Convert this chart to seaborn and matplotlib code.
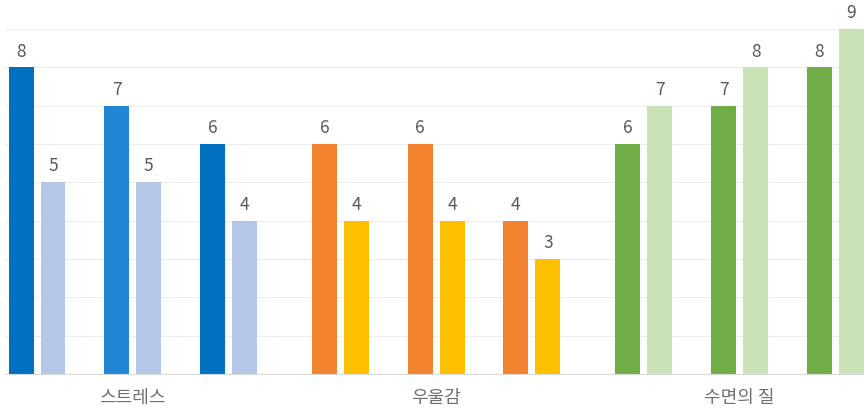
import numpy as np
import pandas as pd
import matplotlib
matplotlib.use("Agg")
import matplotlib.pyplot as plt
import seaborn as sns

# ---- data ----
groups = ["스트레스", "우울감", "수면의 질"]
pairs_per_group = 3
first_values = [8, 7, 6, 6, 6, 4, 6, 7, 8]
second_values = [5, 5, 4, 4, 4, 3, 7, 8, 9]
first_colors = ["#0070C0", "#2386D4", "#0070C0",
                "#F2832F", "#F2832F", "#F2832F",
                "#70AD47", "#70AD47", "#70AD47"]
second_colors = ["#B4C7E7", "#B4C7E7", "#B4C7E7",
                 "#FFC000", "#FFC000", "#FFC000",
                 "#C9E3B6", "#C9E3B6", "#C9E3B6"]

sns.set_theme(style="white")
plt.rcParams["font.family"] = ["Noto Sans CJK KR", "DejaVu Sans"]

group_gap = 0.17
half = 1.0 / 6.0
rows = []
palette = {}
for i, (v1, v2) in enumerate(zip(first_values, second_values)):
    g = i // pairs_per_group
    center = i + g * group_gap
    k1, k2 = f"a{i}", f"b{i}"
    rows.append({"pos": center - half, "value": v1, "key": k1})
    rows.append({"pos": center + half, "value": v2, "key": k2})
    palette[k1] = first_colors[i]
    palette[k2] = second_colors[i]
df = pd.DataFrame(rows)

fig = plt.figure(figsize=(8.64, 4.13), dpi=100)
ax = fig.add_axes([0.006, 0.0944, 0.994, 0.9056])

sns.barplot(data=df, x="pos", y="value", hue="key", palette=palette,
            native_scale=True, dodge=False, width=0.78, saturation=1,
            legend=False, ax=ax, linewidth=0)

for c in ax.containers:
    ax.bar_label(c, fmt="%d", padding=5, fontsize=12.5, color="#595959",
                 fontweight="medium")

ax.set_ylim(0, 9.76)
ax.set_xlim(-0.333, 8.64)
ax.set_yticks(range(0, 10))
ax.yaxis.grid(True, color="#EDEDED", linewidth=0.8)
ax.set_axisbelow(True)
ax.tick_params(axis="y", left=False, labelleft=False)

centers = [(g * pairs_per_group + 1) + g * group_gap for g in range(len(groups))]
ax.set_xticks(centers)
ax.set_xticklabels(groups, fontsize=13, color="#707070")
ax.tick_params(axis="x", length=0, pad=11)
ax.set_xlabel("")
ax.set_ylabel("")
for s in ["left", "right", "top"]:
    ax.spines[s].set_visible(False)
ax.spines["bottom"].set_color("#D9D9D9")
ax.spines["bottom"].set_linewidth(0.8)

fig.savefig("out.png", dpi=100)
